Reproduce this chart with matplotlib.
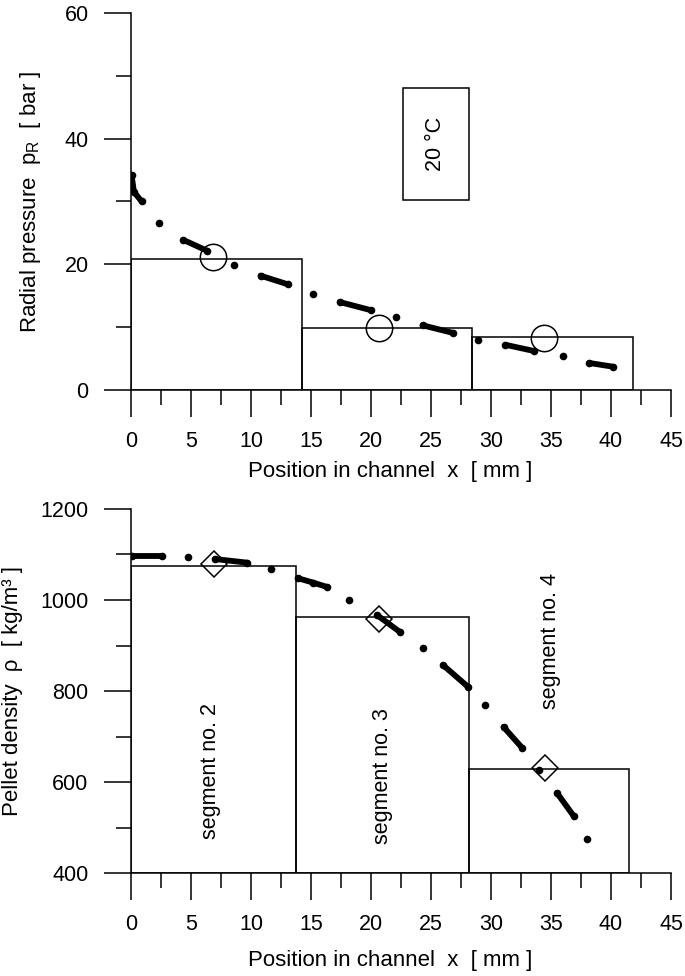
import numpy as np
import matplotlib
matplotlib.use('Agg')
import matplotlib.pyplot as plt
from matplotlib.patches import Rectangle
from matplotlib.ticker import MultipleLocator

plt.rcParams['font.family'] = ['Liberation Sans', 'DejaVu Sans']
plt.rcParams['mathtext.fontset'] = 'custom'
plt.rcParams['mathtext.rm'] = 'Liberation Sans'

# ── radial pressure (top) ────────────────────────────────────────────
p_runs_x = [[0.05, 0.25, 0.9], [2.35], [4.35, 6.3], [8.6], [10.8, 13.1], [15.2],
            [17.4, 20.0], [22.1], [24.3, 26.8], [28.9], [31.2, 33.6], [36.0],
            [38.2, 40.2]]
p_runs_y = [[34.2, 31.5, 30.0], [26.6], [23.9, 22.2], [19.9], [18.2, 16.8], [15.3],
            [14.0, 12.7], [11.6], [10.3, 9.1], [8.0], [7.2, 6.2], [5.4],
            [4.3, 3.7]]
p_seg_edges = [0, 14.25, 28.46, 41.8]
p_seg_mean = [20.8, 9.8, 8.4]
p_mark_x = [6.85, 20.7, 34.4]
p_mark_y = [21.2, 9.9, 8.3]

# ── pellet density (bottom) ──────────────────────────────────────────
d_runs_x = [[0.05, 2.55], [4.75], [7.0, 9.7], [11.7], [13.9, 15.2, 16.3], [18.2],
            [20.5, 22.4], [24.3], [26.0, 28.1], [29.5], [31.05, 32.6], [34.0],
            [35.5, 36.9], [38.0]]
d_runs_y = [[1097, 1097], [1095], [1090, 1082], [1068], [1048, 1038, 1029], [1000],
            [967, 930], [895], [857, 809], [769], [721, 675], [626],
            [576, 525], [475]]
d_seg_edges = [0, 13.75, 28.2, 41.5]
d_seg_mean = [1075, 962, 628]
d_mark_x = [6.9, 20.7, 34.5]
d_mark_y = [1079, 958, 630]
seg_names = ['segment no. 2', 'segment no. 3', 'segment no. 4']
seg_text_x = [6.65, 20.95, 35.0]
seg_text_y = [624, 613, 910]

FS = 15.5
LW = 1.1

fig = plt.figure(figsize=(6.85, 9.76), dpi=100)
ax1 = fig.add_axes([0.1912, 0.6004, 0.7883, 0.3863])
ax2 = fig.add_axes([0.1912, 0.1055, 0.7883, 0.3730])


def style(ax, ymaj, ymin):
    for s in ['top', 'right']:
        ax.spines[s].set_visible(False)
    for s in ['left', 'bottom']:
        ax.spines[s].set_linewidth(LW)
    ax.xaxis.set_major_locator(MultipleLocator(5))
    ax.xaxis.set_minor_locator(MultipleLocator(2.5))
    ax.yaxis.set_major_locator(MultipleLocator(ymaj))
    ax.yaxis.set_minor_locator(MultipleLocator(ymin))
    ax.tick_params(which='major', direction='out', length=19.5, width=LW,
                   labelsize=FS, pad=10)
    ax.tick_params(which='minor', direction='out', length=10.5, width=LW)
    ax.tick_params(axis='y', which='major', pad=11)


def draw_runs(ax, xs, ys):
    for rx, ry in zip(xs, ys):
        ax.plot(rx, ry, color='k', lw=4.2, solid_capstyle='round',
                marker='o', ms=5.5, markeredgewidth=0, zorder=4)


# top panel
ax1.bar(p_seg_edges[:-1], p_seg_mean, width=np.diff(p_seg_edges), align='edge',
        fill=False, edgecolor='k', linewidth=LW, zorder=2)
ax1.plot(p_mark_x, p_mark_y, 'o', ms=19, mfc='none', mec='k', mew=LW, zorder=3)
draw_runs(ax1, p_runs_x, p_runs_y)
ax1.add_patch(Rectangle((22.7, 30.2), 5.5, 17.9, fill=False, ec='k', lw=LW, zorder=2))
ax1.text(25.4, 39.2, '20 °C', rotation=90, ha='center', va='center', fontsize=FS)
ax1.set_xlim(0, 45)
ax1.set_ylim(0, 60)
style(ax1, 20, 10)
ax1.set_xlabel('Position in channel  x  [ mm ]', fontsize=16)
ax1.set_ylabel(r'Radial pressure  p$_\mathregular{R}$  [ bar ]', fontsize=16)
ax1.xaxis.set_label_coords(0.48, -0.188)
ax1.yaxis.set_label_coords(-0.163, 0.5)

# bottom panel
ax2.bar(d_seg_edges[:-1], np.array(d_seg_mean) - 400, width=np.diff(d_seg_edges),
        bottom=400, align='edge', fill=False, edgecolor='k', linewidth=LW, zorder=2)
ax2.plot(d_mark_x, d_mark_y, 'D', ms=13, mfc='none', mec='k', mew=LW, zorder=3)
draw_runs(ax2, d_runs_x, d_runs_y)
for name, tx, ty in zip(seg_names, seg_text_x, seg_text_y):
    ax2.text(tx, ty, name, rotation=90, ha='center', va='center', fontsize=FS)
ax2.set_xlim(0, 45)
ax2.set_ylim(400, 1200)
style(ax2, 200, 100)
ax2.set_xlabel('Position in channel  x  [ mm ]', fontsize=16)
ax2.set_ylabel('Pellet density  ρ  [ kg/m³ ]', fontsize=16)
ax2.xaxis.set_label_coords(0.48, -0.212)
ax2.yaxis.set_label_coords(-0.200, 0.5)

fig.savefig('out.png', dpi=100)
